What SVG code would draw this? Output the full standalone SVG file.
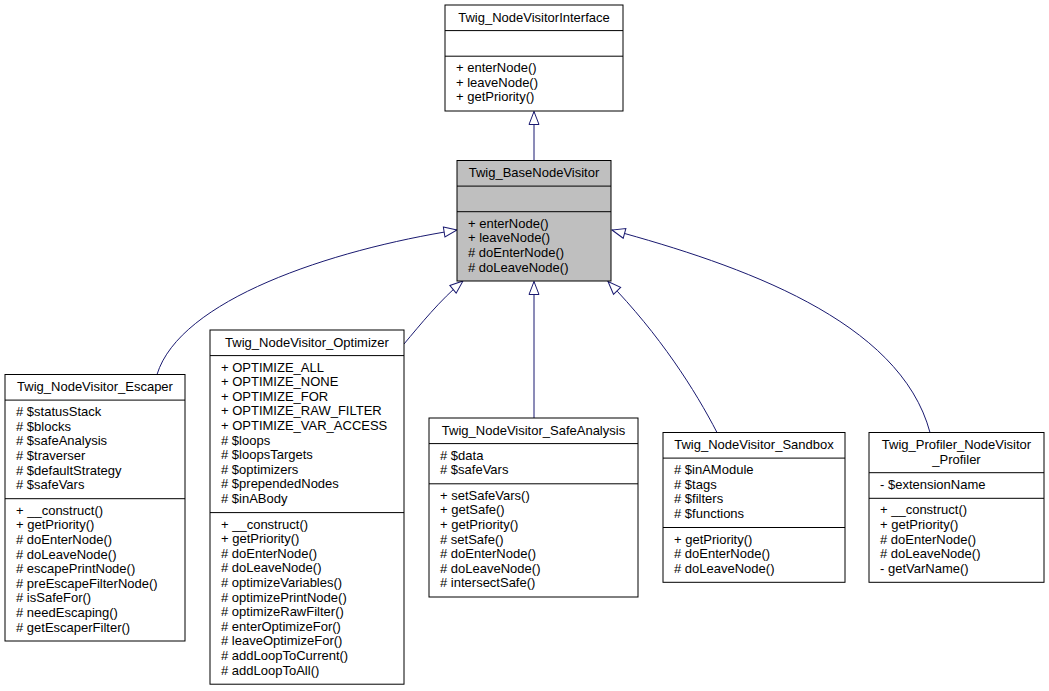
<svg xmlns="http://www.w3.org/2000/svg" width="1049" height="691" viewBox="0 0 1049 691">
<style>
.box{fill:#ffffff;stroke:#000000;stroke-width:1}
.base{fill:#bfbfbf}
.sep{stroke:#000000;stroke-width:1}
text{font-family:"Liberation Sans",Arial,Helvetica,sans-serif;font-size:13px;fill:#000000}
.c{text-anchor:middle}
.edge{fill:none;stroke:#191970;stroke-width:1;marker-end:url(#arr)}
</style>
<defs>
<marker id="arr" viewBox="-1 -1 15 12" refX="13" refY="5" markerWidth="15" markerHeight="12" markerUnits="userSpaceOnUse" orient="auto">
<path d="M0,0 L13,5 L0,10 Z" fill="#ffffff" stroke="#191970" stroke-width="1"/>
</marker>
</defs>
<rect width="1049" height="691" fill="#ffffff"/>
<g id="connectors">
<path class="edge" d="M534,160.5 L534,111.5"/>
<path class="edge" d="M157,374.5 C180,300 330,250 457,230"/>
<path class="edge" d="M404,344 C420,325 440,300 463,281"/>
<path class="edge" d="M534,418 L534,281.5"/>
<path class="edge" d="M717,432.5 C695,390 660,335 608,281.5"/>
<path class="edge" d="M930,432.5 C900,320 740,265 612,230"/>
</g>
<g id="Twig_NodeVisitorInterface">
<rect class="box" x="445" y="5" width="178" height="106"/>
<line class="sep" x1="445" y1="30.6" x2="623" y2="30.6"/>
<line class="sep" x1="445" y1="56.2" x2="623" y2="56.2"/>
<text class="c" x="534" y="21.5">Twig_NodeVisitorInterface</text>
<text x="456" y="72.2">+ enterNode()</text>
<text x="456" y="86.8">+ leaveNode()</text>
<text x="456" y="101.4">+ getPriority()</text>
</g>
<g id="Twig_BaseNodeVisitor">
<rect class="box base" x="457" y="160.5" width="154" height="120.5"/>
<line class="sep" x1="457" y1="186.1" x2="611" y2="186.1"/>
<line class="sep" x1="457" y1="211.7" x2="611" y2="211.7"/>
<text class="c" x="534" y="177">Twig_BaseNodeVisitor</text>
<text x="468" y="227.7">+ enterNode()</text>
<text x="468" y="242.3">+ leaveNode()</text>
<text x="468" y="256.9"># doEnterNode()</text>
<text x="468" y="271.5"># doLeaveNode()</text>
</g>
<g id="Twig_NodeVisitor_Escaper">
<rect class="box" x="5" y="374.5" width="180" height="266.5"/>
<line class="sep" x1="5" y1="400.1" x2="185" y2="400.1"/>
<line class="sep" x1="5" y1="498.7" x2="185" y2="498.7"/>
<text class="c" x="95" y="391">Twig_NodeVisitor_Escaper</text>
<text x="16" y="416.1"># $statusStack</text>
<text x="16" y="430.7"># $blocks</text>
<text x="16" y="445.3"># $safeAnalysis</text>
<text x="16" y="459.9"># $traverser</text>
<text x="16" y="474.5"># $defaultStrategy</text>
<text x="16" y="489.1"># $safeVars</text>
<text x="16" y="514.7">+ __construct()</text>
<text x="16" y="529.3">+ getPriority()</text>
<text x="16" y="543.9"># doEnterNode()</text>
<text x="16" y="558.5"># doLeaveNode()</text>
<text x="16" y="573.1"># escapePrintNode()</text>
<text x="16" y="587.7"># preEscapeFilterNode()</text>
<text x="16" y="602.3"># isSafeFor()</text>
<text x="16" y="616.9"># needEscaping()</text>
<text x="16" y="631.5"># getEscaperFilter()</text>
</g>
<g id="Twig_NodeVisitor_Optimizer">
<rect class="box" x="210" y="330" width="194" height="354.2"/>
<line class="sep" x1="210" y1="355.6" x2="404" y2="355.6"/>
<line class="sep" x1="210" y1="512.6" x2="404" y2="512.6"/>
<text class="c" x="307" y="346.5">Twig_NodeVisitor_Optimizer</text>
<text x="221" y="371.6">+ OPTIMIZE_ALL</text>
<text x="221" y="386.2">+ OPTIMIZE_NONE</text>
<text x="221" y="400.8">+ OPTIMIZE_FOR</text>
<text x="221" y="415.4">+ OPTIMIZE_RAW_FILTER</text>
<text x="221" y="430">+ OPTIMIZE_VAR_ACCESS</text>
<text x="221" y="444.6"># $loops</text>
<text x="221" y="459.2"># $loopsTargets</text>
<text x="221" y="473.8"># $optimizers</text>
<text x="221" y="488.4"># $prependedNodes</text>
<text x="221" y="503"># $inABody</text>
<text x="221" y="528.6">+ __construct()</text>
<text x="221" y="543.2">+ getPriority()</text>
<text x="221" y="557.8"># doEnterNode()</text>
<text x="221" y="572.4"># doLeaveNode()</text>
<text x="221" y="587"># optimizeVariables()</text>
<text x="221" y="601.6"># optimizePrintNode()</text>
<text x="221" y="616.2"># optimizeRawFilter()</text>
<text x="221" y="630.8"># enterOptimizeFor()</text>
<text x="221" y="645.4"># leaveOptimizeFor()</text>
<text x="221" y="660"># addLoopToCurrent()</text>
<text x="221" y="674.6"># addLoopToAll()</text>
</g>
<g id="Twig_NodeVisitor_SafeAnalysis">
<rect class="box" x="429" y="418" width="209" height="179"/>
<line class="sep" x1="429" y1="443.6" x2="638" y2="443.6"/>
<line class="sep" x1="429" y1="483.8" x2="638" y2="483.8"/>
<text class="c" x="533.5" y="434.5">Twig_NodeVisitor_SafeAnalysis</text>
<text x="440" y="459.6"># $data</text>
<text x="440" y="474.2"># $safeVars</text>
<text x="440" y="499.8">+ setSafeVars()</text>
<text x="440" y="514.4">+ getSafe()</text>
<text x="440" y="529">+ getPriority()</text>
<text x="440" y="543.6"># setSafe()</text>
<text x="440" y="558.2"># doEnterNode()</text>
<text x="440" y="572.8"># doLeaveNode()</text>
<text x="440" y="587.4"># intersectSafe()</text>
</g>
<g id="Twig_NodeVisitor_Sandbox">
<rect class="box" x="663" y="432.5" width="182" height="149.8"/>
<line class="sep" x1="663" y1="458.1" x2="845" y2="458.1"/>
<line class="sep" x1="663" y1="527.5" x2="845" y2="527.5"/>
<text class="c" x="754" y="449">Twig_NodeVisitor_Sandbox</text>
<text x="674" y="474.1"># $inAModule</text>
<text x="674" y="488.7"># $tags</text>
<text x="674" y="503.3"># $filters</text>
<text x="674" y="517.9"># $functions</text>
<text x="674" y="543.5">+ getPriority()</text>
<text x="674" y="558.1"># doEnterNode()</text>
<text x="674" y="572.7"># doLeaveNode()</text>
</g>
<g id="Twig_Profiler_NodeVisitor_Profiler">
<rect class="box" x="869" y="432.5" width="175" height="149.8"/>
<line class="sep" x1="869" y1="472.7" x2="1044" y2="472.7"/>
<line class="sep" x1="869" y1="498.3" x2="1044" y2="498.3"/>
<text class="c" x="956.5" y="449">Twig_Profiler_NodeVisitor</text>
<text class="c" x="956.5" y="463.6">_Profiler</text>
<text x="880" y="488.7">- $extensionName</text>
<text x="880" y="514.3">+ __construct()</text>
<text x="880" y="528.9">+ getPriority()</text>
<text x="880" y="543.5"># doEnterNode()</text>
<text x="880" y="558.1"># doLeaveNode()</text>
<text x="880" y="572.7">- getVarName()</text>
</g>
</svg>
